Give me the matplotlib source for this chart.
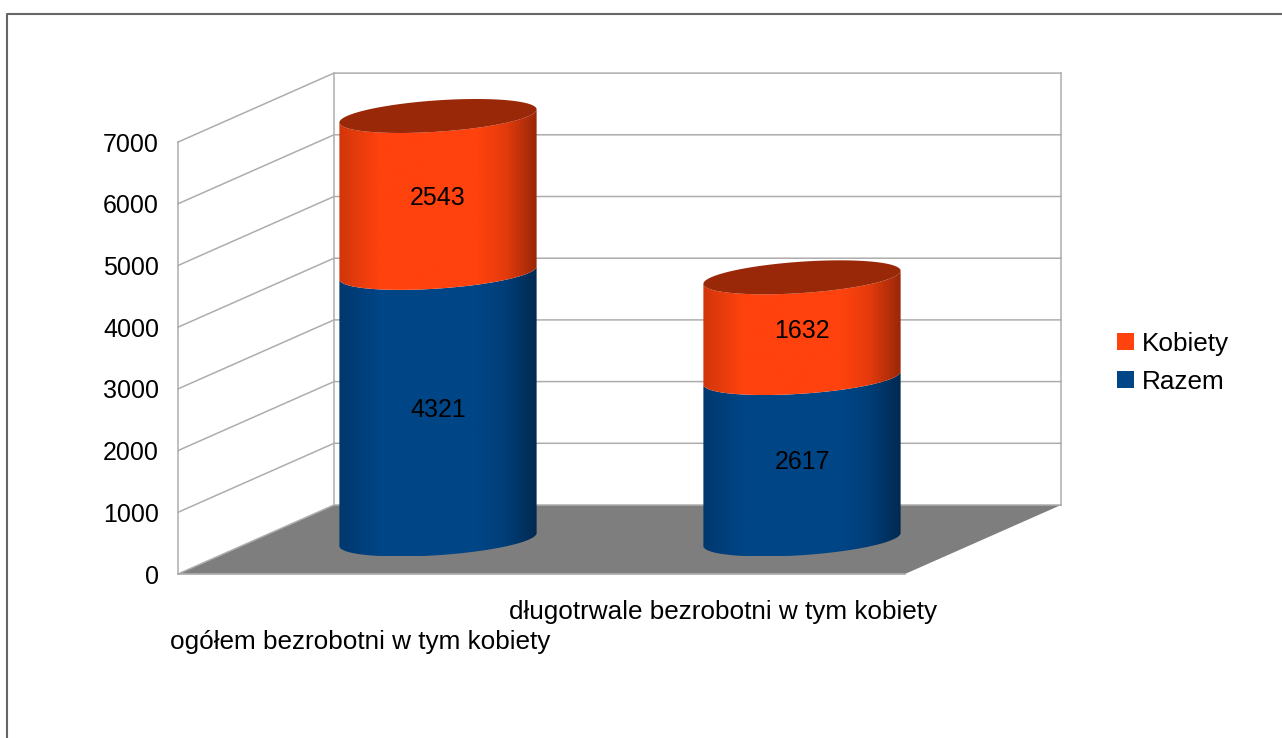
import numpy as np
import matplotlib
matplotlib.use('Agg')
import matplotlib.pyplot as plt
from matplotlib.patches import Polygon, Patch, PathPatch
from matplotlib.path import Path

categories = ['ogółem bezrobotni w tym kobiety', 'długotrwale bezrobotni w tym kobiety']
razem = [4321, 2617]
kobiety = [2543, 1632]
y_ticks = [0, 1000, 2000, 3000, 4000, 5000, 6000, 7000]

plt.rcParams['font.family'] = ['Liberation Sans', 'DejaVu Sans']

W, H = 1282, 738
PX = 0.0617          # pixels per unit of value
Y0 = 574             # pixel row of value 0 on the front edge
DEPTH_X = 156        # shift from front to back of the box, pixels
DEPTH_V = 69 / PX    # same shift upwards, in value units
GRID = '#adadad'

fig = plt.figure(figsize=(W / 100, H / 100), dpi=100)
ax = fig.add_axes([0, 0, 1, 1])


def val(row):
    return (Y0 - row) / PX


# outer border runs off the right and bottom edge
ax.plot([7, 7, W + 5], [val(H + 5), val(14), val(14)], color='#666666', lw=1.5, zorder=1)

# floor and walls
x_front, x_end = 178, 905
ax.add_patch(Polygon([(x_front, 0), (x_end, 0), (x_end + DEPTH_X, DEPTH_V), (x_front + DEPTH_X, DEPTH_V)],
                     closed=True, fc='#7e7e7e', ec='none', zorder=2))
top = y_ticks[-1]
for v in y_ticks:
    ax.plot([x_front, x_front + DEPTH_X, x_end + DEPTH_X], [v, v + DEPTH_V, v + DEPTH_V], color=GRID, lw=1.1, zorder=3)
ax.plot([x_front, x_front], [0, top], color=GRID, lw=1.1, zorder=3)
ax.plot([x_front + DEPTH_X] * 2, [DEPTH_V, top + DEPTH_V], color=GRID, lw=1.1, zorder=3)
ax.plot([x_end + DEPTH_X] * 2, [DEPTH_V, top + DEPTH_V], color=GRID, lw=1.1, zorder=3)
ax.plot([x_front, x_end], [0, 0], color=GRID, lw=1.3, zorder=3)

# cylinder shape: circle sheared by the oblique view
HX, DX, DV = 91, 38, 17 / PX
BASE = 34.5 / PX
centers = [438, 802]
half_w = 99
stops = [0, 0.07, 0.2, 0.7, 0.84, 0.92, 1]
shade = [0.82, 0.88, 1.0, 1.0, 0.9, 0.75, 0.6]
ramp = np.interp(np.linspace(0, 1, 200), stops, shade)


def ring(cx, v, t):
    return cx + HX * np.cos(t) + DX * np.sin(t), v + DV * np.sin(t)


def side(cx, v0, v1, rgb, z):
    # front half between the two silhouette points
    t0 = np.arctan2(DX, HX)
    t = np.linspace(t0, t0 - np.pi, 80)
    x0, y0 = ring(cx, v0, t)
    x1, y1 = ring(cx, v1, t)
    pts = np.r_[np.c_[x0, y0], np.c_[x1, y1][::-1]]
    clip = PathPatch(Path(np.r_[pts, pts[:1]]), transform=ax.transData, fc='none', ec='none')
    ax.add_patch(clip)
    img = np.clip(np.outer(ramp, rgb), 0, 1)[None, :, :]
    im = ax.imshow(img, extent=(cx - half_w, cx + half_w, min(y0.min(), y1.min()), max(y0.max(), y1.max())),
                   aspect='auto', zorder=z, interpolation='bilinear')
    im.set_clip_path(clip)


BLUE = np.array([0x00, 0x45, 0x86]) / 255
ORANGE = np.array([0xff, 0x42, 0x0e]) / 255

for i, cx in enumerate(centers):
    v1 = BASE + razem[i]
    v2 = v1 + kobiety[i]
    side(cx, BASE, v1, BLUE, 4 + i)
    side(cx, v1, v2, ORANGE, 4.2 + i)
    t = np.linspace(0, 2 * np.pi, 160)
    xs, ys = ring(cx, v2, t)
    ax.add_patch(Polygon(np.c_[xs, ys], closed=True, fc=ORANGE * 0.6, ec='none', zorder=4.4 + i))
    ax.text(cx, BASE + razem[i] / 2 - 3.5 / PX, str(razem[i]), fontsize=18, ha='center', va='center', color='black', zorder=8)
    ax.text(cx, v1 + kobiety[i] / 2 - 3.5 / PX, str(kobiety[i]), fontsize=18, ha='center', va='center', color='black', zorder=8)

# axis labels
for v in y_ticks:
    ax.text(159, v - 2.5 / PX, str(v), fontsize=18, ha='right', va='center', color='black')
ax.text(360, val(642), categories[0], fontsize=18.8, ha='center', va='center', color='black')
ax.text(723, val(612.5), categories[1], fontsize=18.8, ha='center', va='center', color='black')

ax.set_xlim(0, W)
ax.set_ylim(val(H), val(0))
ax.axis('off')

handles = [Patch(fc=ORANGE, ec='none', label='Kobiety'), Patch(fc=BLUE, ec='none', label='Razem')]
ax.legend(handles=handles, loc='upper left', bbox_to_anchor=(1117 / W, 1 - 332 / H), frameon=False, fontsize=18.8,
          handlelength=0.64, handleheight=0.64, handletextpad=0.33, labelspacing=0.53, borderpad=0, borderaxespad=0)

fig.savefig('out.png', dpi=100)
